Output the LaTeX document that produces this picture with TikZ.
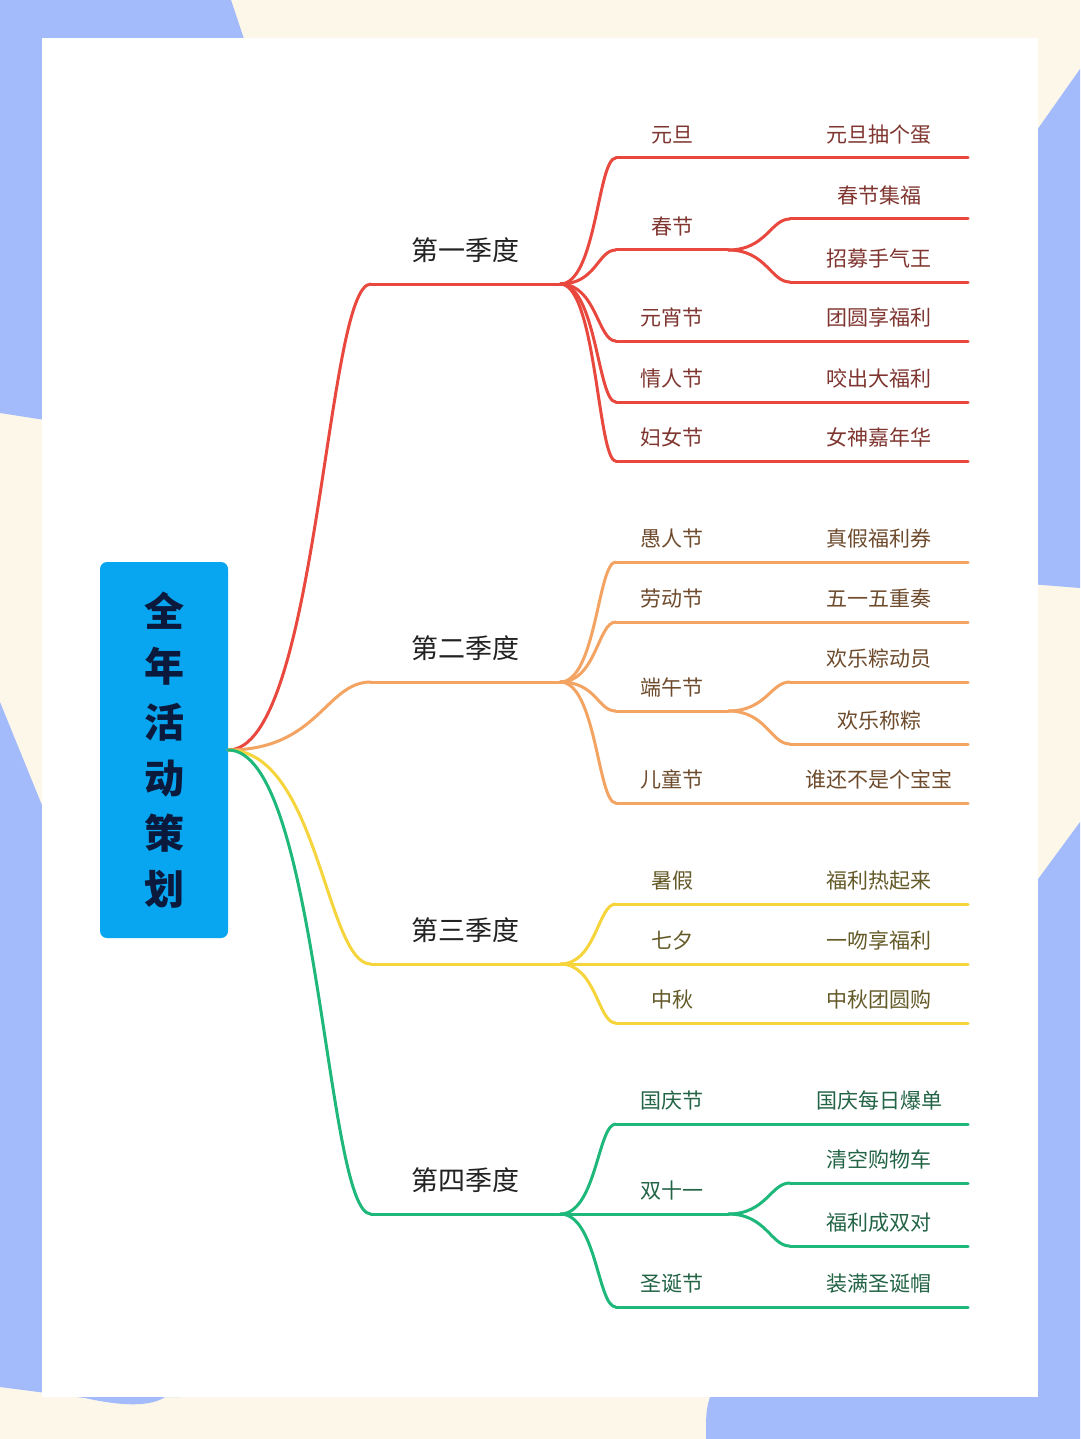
\documentclass[tikz,border=0pt]{standalone}
\usepackage{fontspec}
\setmainfont{Noto Sans CJK SC}
\definecolor{cream}{HTML}{FDF7EA}
\definecolor{paleblue}{HTML}{A3BBFA}
\definecolor{rootblue}{HTML}{08A6F0}
\definecolor{rootink}{HTML}{0B1A3C}
\definecolor{quarterink}{HTML}{222222}
\definecolor{redline}{HTML}{E8483E}
\definecolor{redtext}{HTML}{7F3530}
\definecolor{orangeline}{HTML}{F4A462}
\definecolor{orangetext}{HTML}{6E4B2D}
\definecolor{yellowline}{HTML}{F5D43C}
\definecolor{yellowtext}{HTML}{645A28}
\definecolor{greenline}{HTML}{1EB87A}
\definecolor{greentext}{HTML}{236446}
\tikzset{
  wire/.style={line width=3pt, line cap=round},
  rootbox/.style={fill=rootblue, rounded corners=7pt, inner sep=0pt,
    minimum width=128pt, minimum height=376pt, align=center, text=rootink,
    font=\fontsize{40}{55.6}\selectfont\bfseries},
  quarterbox/.style={anchor=south, inner sep=0pt, minimum width=189pt,
    minimum height=68pt, text=quarterink, font=\fontsize{27}{30}\selectfont},
  festbox/.style={anchor=south, inner sep=0pt, minimum width=112pt,
    minimum height=46pt, font=\fontsize{21}{24}\selectfont},
  ideabox/.style={festbox, minimum width=178pt},
}
\newcommand{\myquarter}[4]
{   \node[quarterbox] (#1) at (465.5,#2) {#3};
    \draw[wire, #4line] (#1.south west) -- (#1.south east);
}
\newcommand{\myfest}[4]
{   \node[festbox, text=#4text] (#1) at (672,#2) {#3};
    \draw[wire, #4line] (#1.south west) -- (#1.south east);
}
\newcommand{\myidea}[4]
{   \node[ideabox, text=#4text] (#1) at (879,#2) {#3};
    \draw[wire, #4line] (#1.south west) -- (#1.south east);
}
\newcommand{\mylink}[4]
{   \draw[wire, #1line] (#2) .. controls +(#4,0) and +(-#4/2,0) .. (#3);
}
\begin{document}
\begin{tikzpicture}[x=1pt,y=-1pt]
 \useasboundingbox (0,0) rectangle (1080,1439);

 % paper and the coloured corners round it
 \fill[cream] (0,0) rectangle (1080,1439);
 \fill[paleblue] (0,0) -- (231,0) -- (246,45) -- (45,420) -- (0,413) -- cycle;
 \fill[paleblue] (0,702) -- (46,815) -- (180,1397) -- (165,1397)
   .. controls (152,1406) and (125,1407) .. (85,1398) -- (0,1387) -- cycle;
 \fill[paleblue] (1080,69) -- (1030,140) -- (1030,584) -- (1080,588) -- cycle;
 \fill[paleblue] (1080,822) -- (1030,890) -- (1030,1390) -- (712,1390)
   .. controls (706,1410) .. (706,1439) -- (1080,1439) -- cycle;
 \fill[white] (42,38) rectangle (1038,1397);

 \node[rootbox] (root) at (164,750) {全\\年\\活\\动\\策\\划};

 % first quarter
 \myquarter{q1}{284}{第一季度}{red}
 \myfest{yuandan}{158}{元旦}{red}
 \myfest{chunjie}{250}{春节}{red}
 \myfest{yuanxiao}{341}{元宵节}{red}
 \myfest{qingren}{402}{情人节}{red}
 \myfest{funv}{461}{妇女节}{red}
 \myidea{choudan}{158}{元旦抽个蛋}{red}
 \myidea{jifu}{219}{春节集福}{red}
 \myidea{zhaomu}{282}{招募手气王}{red}
 \myidea{tuanyuan}{341}{团圆享福利}{red}
 \myidea{yaochu}{402}{咬出大福利}{red}
 \myidea{nvshen}{461}{女神嘉年华}{red}

 % second quarter
 \myquarter{q2}{682}{第二季度}{orange}
 \myfest{yuren}{562}{愚人节}{orange}
 \myfest{laodong}{622}{劳动节}{orange}
 \myfest{duanwu}{711}{端午节}{orange}
 \myfest{ertong}{803}{儿童节}{orange}
 \myidea{zhenjia}{562}{真假福利券}{orange}
 \myidea{wuyi}{622}{五一五重奏}{orange}
 \myidea{dongyuan}{682}{欢乐粽动员}{orange}
 \myidea{chengzong}{744}{欢乐称粽}{orange}
 \myidea{baobao}{803}{谁还不是个宝宝}{orange}

 % third quarter
 \myquarter{q3}{964}{第三季度}{yellow}
 \myfest{shujia}{904}{暑假}{yellow}
 \myfest{qixi}{964}{七夕}{yellow}
 \myfest{zhongqiu}{1023}{中秋}{yellow}
 \myidea{reqilai}{904}{福利热起来}{yellow}
 \myidea{yiwen}{964}{一吻享福利}{yellow}
 \myidea{tuanyuangou}{1023}{中秋团圆购}{yellow}

 % fourth quarter
 \myquarter{q4}{1214}{第四季度}{green}
 \myfest{guoqing}{1124}{国庆节}{green}
 \myfest{shuangshiyi}{1214}{双十一}{green}
 \myfest{shengdan}{1307}{圣诞节}{green}
 \myidea{baodan}{1124}{国庆每日爆单}{green}
 \myidea{qingkong}{1183}{清空购物车}{green}
 \myidea{chengshuang}{1246}{福利成双对}{green}
 \myidea{shengdanmao}{1307}{装满圣诞帽}{green}

 % branches
 \mylink{red}{root.east}{q1.south west}{90}
 \mylink{orange}{root.east}{q2.south west}{90}
 \mylink{yellow}{root.east}{q3.south west}{90}
 \mylink{green}{root.east}{q4.south west}{90}

 \mylink{red}{q1.south east}{yuandan.south west}{36}
 \mylink{red}{q1.south east}{chunjie.south west}{36}
 \mylink{red}{q1.south east}{yuanxiao.south west}{36}
 \mylink{red}{q1.south east}{qingren.south west}{36}
 \mylink{red}{q1.south east}{funv.south west}{36}
 \mylink{red}{yuandan.south east}{choudan.south west}{38}
 \mylink{red}{chunjie.south east}{jifu.south west}{38}
 \mylink{red}{chunjie.south east}{zhaomu.south west}{38}
 \mylink{red}{yuanxiao.south east}{tuanyuan.south west}{38}
 \mylink{red}{qingren.south east}{yaochu.south west}{38}
 \mylink{red}{funv.south east}{nvshen.south west}{38}

 \mylink{orange}{q2.south east}{yuren.south west}{36}
 \mylink{orange}{q2.south east}{laodong.south west}{36}
 \mylink{orange}{q2.south east}{duanwu.south west}{36}
 \mylink{orange}{q2.south east}{ertong.south west}{36}
 \mylink{orange}{yuren.south east}{zhenjia.south west}{38}
 \mylink{orange}{laodong.south east}{wuyi.south west}{38}
 \mylink{orange}{duanwu.south east}{dongyuan.south west}{38}
 \mylink{orange}{duanwu.south east}{chengzong.south west}{38}
 \mylink{orange}{ertong.south east}{baobao.south west}{38}

 \mylink{yellow}{q3.south east}{shujia.south west}{36}
 \mylink{yellow}{q3.south east}{qixi.south west}{36}
 \mylink{yellow}{q3.south east}{zhongqiu.south west}{36}
 \mylink{yellow}{shujia.south east}{reqilai.south west}{38}
 \mylink{yellow}{qixi.south east}{yiwen.south west}{38}
 \mylink{yellow}{zhongqiu.south east}{tuanyuangou.south west}{38}

 \mylink{green}{q4.south east}{guoqing.south west}{36}
 \mylink{green}{q4.south east}{shuangshiyi.south west}{36}
 \mylink{green}{q4.south east}{shengdan.south west}{36}
 \mylink{green}{guoqing.south east}{baodan.south west}{38}
 \mylink{green}{shuangshiyi.south east}{qingkong.south west}{38}
 \mylink{green}{shuangshiyi.south east}{chengshuang.south west}{38}
 \mylink{green}{shengdan.south east}{shengdanmao.south west}{38}

\end{tikzpicture}
\end{document}
